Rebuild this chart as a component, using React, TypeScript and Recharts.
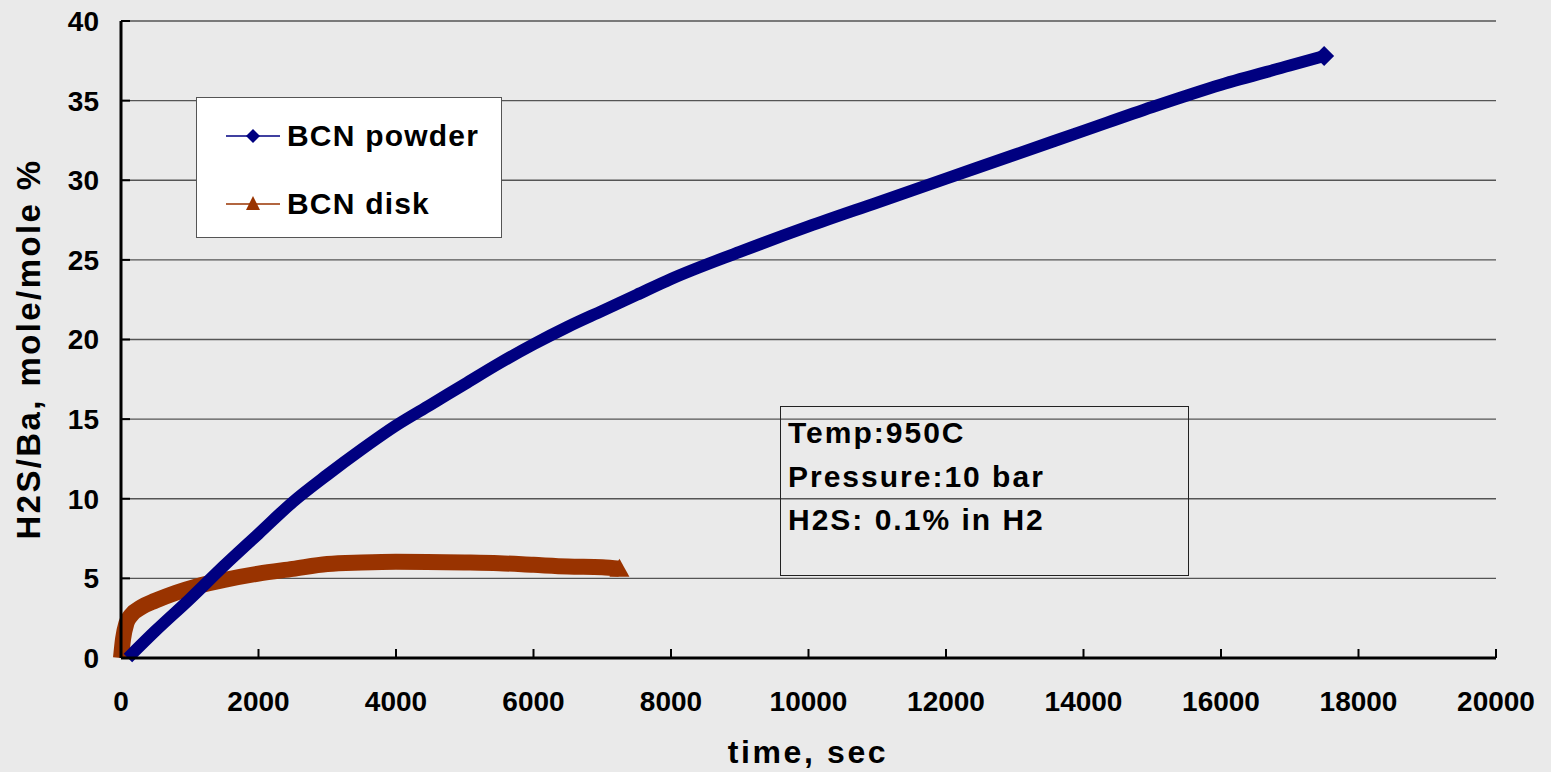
import React from 'react'
import { LineChart, Line, XAxis, YAxis, CartesianGrid, Legend } from 'recharts'

// BCN powder: time (s) vs H2S/Ba (mole/mole %)
const powderTime = [100, 500, 1000, 1500, 2000, 2500, 3000, 3500, 4000, 4500, 5000, 5500, 6000, 6500, 7000, 7500, 8000, 9000, 10000, 11000, 12000, 13000, 14000, 15000, 16000, 17000, 17500]
const powderH2S = [0, 1.7, 3.7, 5.8, 7.8, 9.8, 11.5, 13.1, 14.6, 15.9, 17.2, 18.5, 19.7, 20.8, 21.8, 22.8, 23.8, 25.5, 27.1, 28.6, 30.1, 31.6, 33.1, 34.6, 36.0, 37.2, 37.8]

// BCN disk
const diskTime = [0, 30, 80, 150, 300, 500, 800, 1100, 1500, 2000, 2500, 3000, 3500, 4000, 5000, 5500, 6000, 6500, 7000, 7250]
const diskH2S = [0, 1.2, 2.2, 2.7, 3.2, 3.6, 4.1, 4.5, 4.9, 5.3, 5.6, 5.9, 6.0, 6.05, 6.0, 5.95, 5.85, 5.75, 5.7, 5.6]

const xTicks = [0, 2000, 4000, 6000, 8000, 10000, 12000, 14000, 16000, 18000, 20000]
const yTicks = [0, 5, 10, 15, 20, 25, 30, 35, 40]
const seriesNames = ['BCN powder', 'BCN disk']
const conditions = ['Temp:950C', 'Pressure:10 bar', 'H2S: 0.1% in H2']

const NAVY = '#000080'
const RUST = '#993300'
const FONT = '"Liberation Sans", Arial, sans-serif'

const powderData = powderTime.map((t, i) => ({ t, v: powderH2S[i] }))
const diskData = diskTime.map((t, i) => ({ t, v: diskH2S[i] }))

const tickStyle = { fill: '#000', fontSize: 28, fontWeight: 700, fontFamily: FONT }

function endDot(kind: 'diamond' | 'triangle', last: number, color: string) {
  return (props: any) => {
    const { cx, cy, index } = props
    if (index !== last || cx == null) return <g key={`d-${index}`} />
    const s = 10
    const pts =
      kind === 'diamond'
        ? `${cx},${cy - s} ${cx + s},${cy} ${cx},${cy + s} ${cx - s},${cy}`
        : `${cx},${cy - s} ${cx + s},${cy + s * 0.8} ${cx - s},${cy + s * 0.8}`
    return <polygon key={`d-${index}`} points={pts} fill={color} />
  }
}

function ChartLegend() {
  const rows = [
    { name: seriesNames[0], color: NAVY, kind: 'diamond' },
    { name: seriesNames[1], color: RUST, kind: 'triangle' },
  ]
  return (
    <div
      style={{
        width: 306,
        height: 141,
        background: '#fff',
        border: '1px solid #555',
        boxSizing: 'border-box',
        position: 'relative',
      }}>
      {rows.map((r, i) => {
        const cy = 38 + i * 68
        return (
          <div key={r.name}>
            <svg width={60} height={24} style={{ position: 'absolute', left: 28, top: cy - 12 }}>
              <line x1={1} y1={12} x2={55} y2={12} stroke={r.color} strokeWidth={1.5} />
              {r.kind === 'diamond' ? (
                <polygon points="28,5 35,12 28,19 21,12" fill={r.color} />
              ) : (
                <polygon points="28,4 35,18 21,18" fill={r.color} />
              )}
            </svg>
            <span
              style={{
                position: 'absolute',
                left: 90,
                top: cy - 18,
                lineHeight: '36px',
                fontSize: 30,
                fontWeight: 700,
                fontFamily: FONT,
                letterSpacing: 1.2,
                whiteSpace: 'nowrap',
                color: '#000',
              }}>
              {r.name}
            </span>
          </div>
        )
      })}
    </div>
  )
}

export default function App() {
  return (
    <div
      style={{
        position: 'absolute',
        left: 0,
        top: 0,
        width: 1551,
        height: 772,
        background: '#eaeaea',
      }}>
      <LineChart width={1551} height={772} margin={{ top: 21, right: 55, bottom: 20, left: 20 }}>
        <CartesianGrid vertical={false} stroke="#555" strokeWidth={1.3} />
        <XAxis
          dataKey="t"
          type="number"
          domain={[0, 20000]}
          ticks={xTicks}
          allowDuplicatedCategory={false}
          height={94}
          axisLine={{ stroke: '#000', strokeWidth: 3 }}
          tickLine={{ stroke: '#000', strokeWidth: 2 }}
          tickSize={-9}
          tickMargin={42}
          tick={tickStyle}
          label={() => (
            <text
              x={808}
              y={763}
              textAnchor="middle"
              fontSize={32}
              fontWeight={700}
              fontFamily={FONT}
              letterSpacing={2.6}
              fill="#000">
              time, sec
            </text>
          )}
        />
        <XAxis
          xAxisId="top"
          orientation="top"
          type="number"
          domain={[0, 20000]}
          height={0}
          tick={false}
          tickLine={false}
          axisLine={{ stroke: '#000', strokeWidth: 3 }}
        />
        <YAxis
          type="number"
          domain={[0, 40]}
          ticks={yTicks}
          width={101}
          axisLine={{ stroke: '#000', strokeWidth: 3 }}
          tickLine={{ stroke: '#000', strokeWidth: 2 }}
          tickSize={-9}
          tickMargin={31}
          tick={tickStyle}
          label={() => (
            <text
              x={28}
              y={349}
              transform="rotate(-90 28 349)"
              textAnchor="middle"
              dominantBaseline="central"
              fontSize={33}
              fontWeight={700}
              fontFamily={FONT}
              letterSpacing={2.4}
              fill="#000">
              H2S/Ba, mole/mole %
            </text>
          )}
        />
        <YAxis
          yAxisId="right"
          orientation="right"
          type="number"
          domain={[0, 40]}
          width={0}
          tick={false}
          tickLine={false}
          axisLine={{ stroke: '#000', strokeWidth: 3 }}
        />
        <Legend
          layout="horizontal"
          verticalAlign="middle"
          align="center"
          wrapperStyle={{ left: 196, top: 97, width: 306, height: 141 }}
          content={() => <ChartLegend />}
        />
        <Line
          data={diskData}
          dataKey="v"
          name={seriesNames[1]}
          type="monotone"
          stroke={RUST}
          strokeWidth={16}
          dot={endDot('triangle', diskData.length - 1, RUST)}
          activeDot={false}
          isAnimationActive={false}
        />
        <Line
          data={powderData}
          dataKey="v"
          name={seriesNames[0]}
          type="monotone"
          stroke={NAVY}
          strokeWidth={12}
          dot={endDot('diamond', powderData.length - 1, NAVY)}
          activeDot={false}
          isAnimationActive={false}
        />
      </LineChart>
      <svg
        width={1551}
        height={772}
        style={{ position: 'absolute', left: 0, top: 0, pointerEvents: 'none' }}>
        <rect x={780.5} y={406.5} width={408} height={169} fill="none" stroke="#222" strokeWidth={1} />
        {conditions.map((c, i) => (
          <text
            key={c}
            x={788}
            y={443 + i * 43.5}
            fontSize={30}
            fontWeight={700}
            fontFamily={FONT}
            letterSpacing={2}
            fill="#000">
            {c}
          </text>
        ))}
      </svg>
    </div>
  )
}
